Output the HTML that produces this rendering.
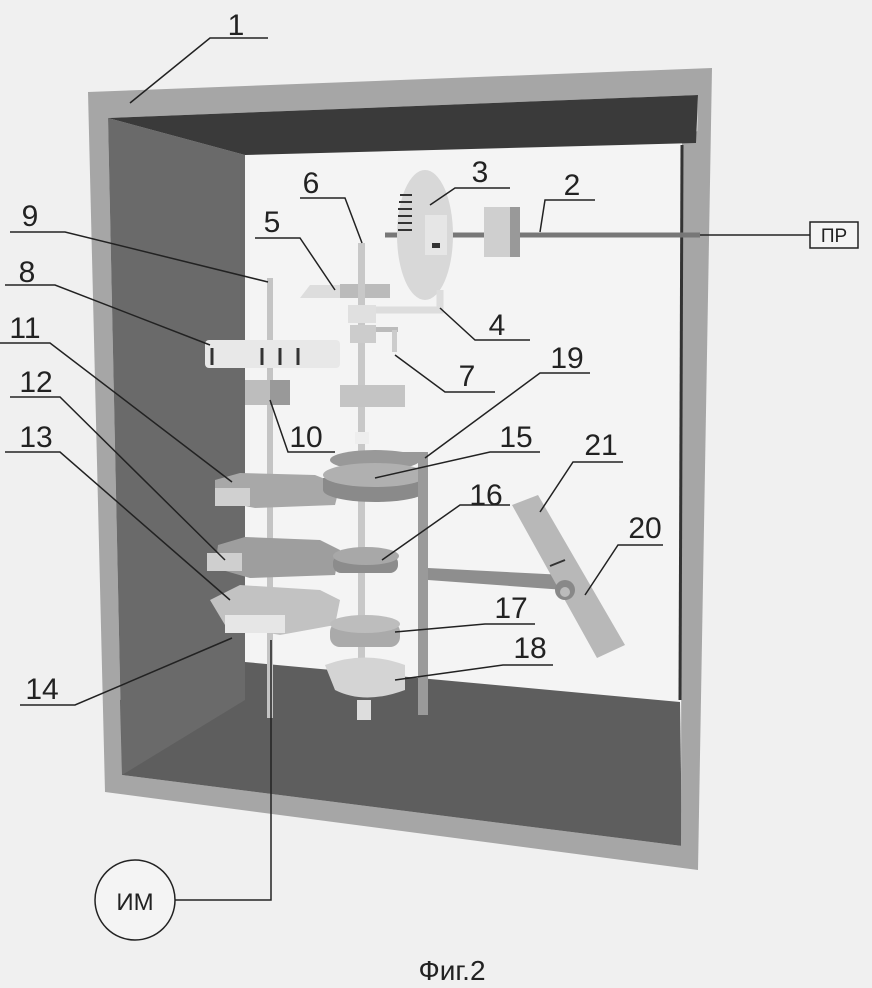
<!DOCTYPE html>
<html><head><meta charset="utf-8"><style>
html,body{margin:0;padding:0;background:#f0f0f0;}
svg{display:block;}
text{font-family:"Liberation Sans",sans-serif;fill:#222;}
</style></head><body>
<svg width="872" height="988" viewBox="0 0 872 988" xmlns="http://www.w3.org/2000/svg">
<rect width="872" height="988" fill="#f0f0f0"/>
<!-- frame -->
<polygon points="88,92 712,68 698,870 105,792" fill="#a6a6a6"/>
<!-- white back wall -->
<polygon points="108,118 698,95 682,846 122,775" fill="#f4f4f4"/>
<!-- floor -->
<polygon points="245,662 680,702 682,846 122,775 120,700" fill="#5e5e5e"/>
<!-- left wall -->
<polygon points="108,118 245,155 245,700 122,775" fill="#6a6a6a"/>
<!-- right frame strip -->
<polygon points="682,140 699,130 698,868 681,846" fill="#a6a6a6"/>
<!-- top band -->
<polygon points="108,118 698,95 696,143 245,155" fill="#3a3a3a"/>
<line x1="682" y1="145" x2="680" y2="700" stroke="#333" stroke-width="3"/>

<!-- shaft 2 -->
<line x1="385" y1="235" x2="700" y2="235" stroke="#777" stroke-width="5"/>
<rect x="484" y="207" width="35" height="50" fill="#cfcfcf"/>
<rect x="510" y="207" width="10" height="50" fill="#999"/>
<!-- wheel 3 -->
<ellipse cx="425" cy="235" rx="28" ry="65" fill="#d8d8d8"/>
<g stroke="#333" stroke-width="2">
<line x1="400" y1="195" x2="412" y2="195"/><line x1="399" y1="202" x2="412" y2="202"/><line x1="398" y1="209" x2="412" y2="209"/><line x1="398" y1="216" x2="412" y2="216"/><line x1="398" y1="223" x2="412" y2="223"/><line x1="398" y1="230" x2="412" y2="230"/>
</g>
<rect x="425" y="215" width="22" height="40" fill="#e6e6e6"/>
<rect x="432" y="243" width="8" height="5" fill="#333"/>
<!-- bracket 4 -->
<polyline points="440,290 440,310 350,310" fill="none" stroke="#ddd" stroke-width="7"/>
<!-- plate 5 -->
<polygon points="310,285 340,285 350,298 300,298" fill="#ddd"/>
<rect x="340" y="284" width="50" height="14" fill="#bbb"/>
<!-- shaft 6 -->
<rect x="358" y="243" width="7" height="420" fill="#c8c8c8"/>
<rect x="348" y="305" width="28" height="18" fill="#e0e0e0"/>
<rect x="350" y="325" width="26" height="18" fill="#ccc"/>
<rect x="376" y="327" width="22" height="5" fill="#bbb"/>
<rect x="392" y="330" width="5" height="22" fill="#ccc"/>
<rect x="340" y="385" width="65" height="22" fill="#c4c4c4"/>
<rect x="355" y="432" width="14" height="12" fill="#eee"/>
<!-- shaft 9 -->
<rect x="267" y="278" width="6" height="440" fill="#c4c4c4"/>
<!-- gear 8 -->
<rect x="205" y="340" width="135" height="28" rx="4" fill="#e8e8e8"/>
<g stroke="#333" stroke-width="3"><line x1="262" y1="348" x2="262" y2="365"/><line x1="280" y1="348" x2="280" y2="365"/><line x1="298" y1="348" x2="298" y2="365"/><line x1="212" y1="348" x2="212" y2="365"/></g>
<rect x="245" y="380" width="45" height="25" fill="#bdbdbd"/>
<rect x="270" y="380" width="20" height="25" fill="#999"/>
<!-- gears 11,12,13 -->
<polygon points="215,480 240,473 315,475 340,485 335,505 255,508 215,500" fill="#a8a8a8"/>
<rect x="215" y="488" width="35" height="18" fill="#d0d0d0"/>
<polygon points="218,545 245,537 320,540 340,550 335,575 250,578 215,568" fill="#9e9e9e"/>
<rect x="207" y="553" width="35" height="18" fill="#cfcfcf"/>
<polygon points="210,600 240,585 320,590 340,600 335,625 280,635 225,625" fill="#c2c2c2"/>
<rect x="225" y="615" width="60" height="18" fill="#e6e6e6"/>
<!-- gears 15,16,17,18 -->
<ellipse cx="375" cy="460" rx="45" ry="10" fill="#999"/>
<rect x="323" y="478" width="104" height="12" fill="#8a8a8a"/>
<ellipse cx="375" cy="490" rx="52" ry="12" fill="#8a8a8a"/>
<ellipse cx="375" cy="475" rx="52" ry="12" fill="#b0b0b0"/>
<rect x="333" y="555" width="65" height="18" rx="8" fill="#8c8c8c"/>
<ellipse cx="366" cy="556" rx="33" ry="9" fill="#a8a8a8"/>
<rect x="330" y="622" width="70" height="25" rx="10" fill="#aaa"/>
<ellipse cx="365" cy="624" rx="35" ry="9" fill="#bdbdbd"/>
<path d="M325,665 Q365,650 405,665 L405,690 Q365,705 335,690 Z" fill="#d4d4d4"/>
<rect x="357" y="700" width="14" height="20" fill="#ddd"/>
<!-- frame 19 -->
<rect x="418" y="455" width="10" height="260" fill="#9a9a9a"/>
<rect x="400" y="452" width="28" height="8" fill="#999"/>
<polygon points="428,568 565,575 565,590 428,580" fill="#8e8e8e"/>
<!-- lever 21/20 -->
<polygon points="512,505 538,495 625,645 597,658" fill="#b8b8b8"/>
<circle cx="565" cy="590" r="10" fill="#888"/>
<circle cx="565" cy="592" r="5" fill="#bbb"/>
<line x1="550" y1="566" x2="565" y2="560" stroke="#333" stroke-width="2"/>

<!-- leaders -->
<g stroke="#222" stroke-width="1.5" fill="none">
<polyline points="268,38 210,38 130,103"/>
<polyline points="595,200 545,200 540,232"/>
<polyline points="510,188 455,188 430,205"/>
<line x1="700" y1="235" x2="810" y2="235"/>
<polyline points="530,340 475,340 440,308"/>
<polyline points="255,238 300,238 335,290"/>
<polyline points="300,198 345,198 362,243"/>
<polyline points="495,392 445,392 395,355"/>
<polyline points="10,232 65,232 268,282"/>
<polyline points="5,285 55,285 210,345"/>
<polyline points="0,343 50,343 232,482"/>
<polyline points="10,397 60,397 225,560"/>
<polyline points="5,452 60,452 230,600"/>
<polyline points="20,705 75,705 232,638"/>
<polyline points="335,452 288,452 270,400"/>
<polyline points="590,373 540,373 425,458"/>
<polyline points="540,452 490,452 375,478"/>
<polyline points="510,505 460,505 382,560"/>
<polyline points="623,462 573,462 540,512"/>
<polyline points="663,545 618,545 585,595"/>
<polyline points="535,624 485,624 395,632"/>
<polyline points="553,665 503,665 395,680"/>
<polyline points="175,900 271,900 271,640"/>
</g>
<rect x="810" y="222" width="48" height="26" fill="#f4f4f4" stroke="#222" stroke-width="1.5"/>
<text x="834" y="242" font-size="19" text-anchor="middle">ПР</text>
<circle cx="135" cy="900" r="40" fill="#f4f4f4" stroke="#222" stroke-width="1.5"/>
<text x="135" y="910" font-size="24" text-anchor="middle">ИМ</text>

<g font-size="30" text-anchor="middle">
<text x="236" y="35">1</text>
<text x="572" y="195">2</text>
<text x="480" y="182">3</text>
<text x="497" y="335">4</text>
<text x="272" y="232">5</text>
<text x="311" y="193">6</text>
<text x="467" y="386">7</text>
<text x="27" y="282">8</text>
<text x="30" y="226">9</text>
<text x="306" y="447">10</text>
<text x="25" y="338">11</text>
<text x="36" y="392">12</text>
<text x="36" y="447">13</text>
<text x="42" y="699">14</text>
<text x="516" y="447">15</text>
<text x="486" y="505">16</text>
<text x="511" y="618">17</text>
<text x="530" y="658">18</text>
<text x="567" y="368">19</text>
<text x="645" y="538">20</text>
<text x="601" y="455">21</text>
</g>
<text x="452" y="980" font-size="28" text-anchor="middle">Фиг.2</text>
</svg>
</body></html>
